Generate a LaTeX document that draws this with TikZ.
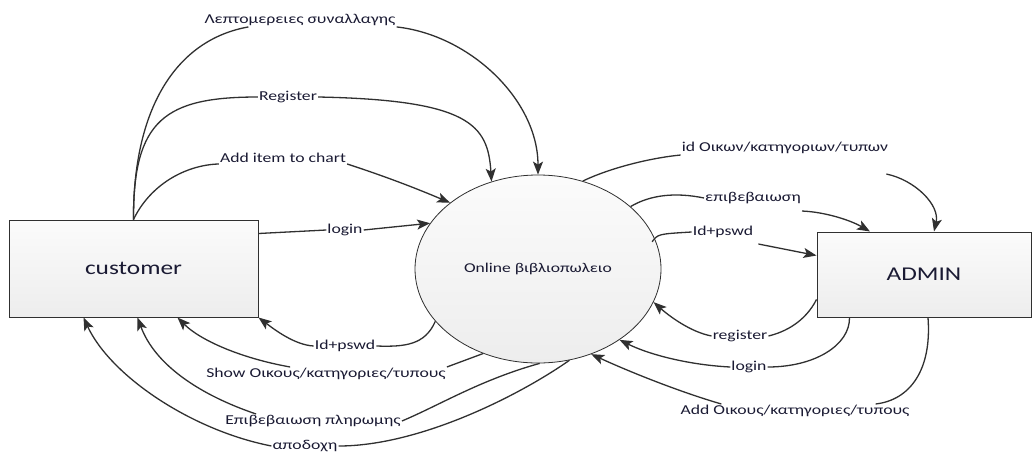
\documentclass[tikz,border=0pt]{standalone}
\usepackage{fontspec}
\setmainfont{Carlito}
\usetikzlibrary{arrows.meta,shapes.geometric,calc}
\definecolor{linec}{HTML}{303030}
\definecolor{txtc}{HTML}{1A1A33}
\newcommand{\sx}[1]{\scalebox{1.3}[1]{#1}}
\begin{document}
\begin{tikzpicture}[x=1pt,y=-1pt,
  ent/.style={draw=linec, line width=1pt, rectangle, top color=gray!3, bottom color=gray!14, inner sep=0pt, text=txtc, font=\fontsize{19.5}{22}\selectfont},
  proc/.style={draw=linec, line width=0.8pt, ellipse, inner sep=0pt, top color=gray!3, bottom color=gray!14, text=txtc, font=\fontsize{13.5}{15}\selectfont},
  lbl/.style={inner sep=1pt, text=txtc, font=\fontsize{13.6}{15}\selectfont},
  flow/.style={draw=linec, line width=1.3pt},
  arr/.style={flow, -{Stealth[length=13pt,width=10pt,inset=3pt]}}
]
\useasboundingbox (0,0) rectangle (1033,453);
\fill[white] (0,0) rectangle (1033,453);

% nodes
\node[ent, minimum width=249pt, minimum height=97pt] (cust) at (133.5,268.5) {\sx{customer}};
\node[ent, minimum width=214pt, minimum height=85pt] (adm) at (924,274.5) {\sx{ADMIN}};
\node[proc, minimum width=246pt, minimum height=188pt] (sys) at (538,269) {\sx{Online βιβλιοπωλειο}};

% labels
\node[lbl] (L1) at (300,20) {\sx{Λεπτομερειες συναλλαγης}};
\node[lbl] (L2) at (288,97) {\sx{Register}};
\node[lbl] (L3) at (283,158) {\sx{Add item to chart}};
\node[lbl] (L4) at (345,230) {\sx{login}};
\node[lbl] (L5) at (345,346) {\sx{Id+pswd}};
\node[lbl] (L6) at (326,374) {\sx{Show Οικους/κατηγοριες/τυπους}};
\node[lbl] (L7) at (313,421) {\sx{Επιβεβαιωση πληρωμης}};
\node[lbl] (L8) at (305,446) {\sx{αποδοχη}};
\node[lbl] (R1) at (785,148) {\sx{id Οικων/κατηγοριων/τυπων}};
\node[lbl] (R2) at (753,198) {\sx{επιβεβαιωση}};
\node[lbl] (R3) at (723,232) {\sx{Id+pswd}};
\node[lbl] (R4) at (740,336) {\sx{register}};
\node[lbl] (R5) at (749,367) {\sx{login}};
\node[lbl] (R6) at (795,411) {\sx{Add Οικους/κατηγοριες/τυπους}};

% customer -> system
\draw[flow] (cust.north) .. controls (133,110) and (175,40) .. ([xshift=45pt]L1.south west);
\draw[arr] (L1.south east) .. controls (470,35) and (538,100) .. (sys.90);

\draw[flow] (cust.north) .. controls (133,120) and (165,97) .. (L2.west);
\draw[arr] (L2.east) .. controls (470,100) and (488,125) .. (sys.118.8);

\draw[flow] (cust.north) .. controls (150,185) and (185,165) .. (L3.south west);
\draw[arr] (L3.south east) .. controls (390,178) and (420,190) .. (sys.143);

\draw[flow] ([yshift=-14pt]cust.north east) -- (L4.west);
\draw[arr] (L4.east) -- (sys.157.4);

% system -> customer
\draw[flow] (sys.207.7) .. controls (425,345) and (405,347) .. (L5.east);
\draw[arr] (L5.west) .. controls (295,345) and (275,330) .. (cust.south east);

\draw[flow] (sys.237) -- (L6.north east);
\draw[arr] ([xshift=85pt]L6.north west) .. controls (240,358) and (200,340) .. ([xshift=44pt]cust.south);

\draw[flow] (sys.271) .. controls (480,380) and (440,405) .. (L7.east);
\draw[arr] ([xshift=32pt]L7.north west) .. controls (200,395) and (155,365) .. ([xshift=4pt]cust.south);

\draw[flow] (sys.289) .. controls (520,395) and (420,446) .. (L8.east);
\draw[arr] (L8.west) .. controls (190,430) and (110,375) .. ([xshift=-50pt]cust.south);

% system -> admin
\draw[flow] (sys.63.4) .. controls (610,168) and (650,158) .. (R1.south west);
\draw[arr] ([xshift=-3pt,yshift=-19pt]R1.south east) .. controls (915,180) and (940,205) .. ([xshift=10pt]adm.north);

\draw[flow] (sys.34.5) .. controls (650,195) and (675,192) .. (R2.west);
\draw[arr] ([yshift=-6pt]R2.south east) .. controls (825,212) and (850,220) .. ([xshift=-54pt]adm.north);

\draw[flow] ([xshift=-4pt]sys.13) .. controls (658,234) .. (R3.west);
\draw[arr] ([xshift=4pt,yshift=-12pt]R3.east) -- ([yshift=-24pt]adm.north west);

% admin -> system
\draw[flow] ([yshift=18pt]adm.south west) .. controls (805,322) and (785,332) .. (R4.east);
\draw[arr] (R4.west) .. controls (690,332) and (668,315) .. (sys.344);

\draw[flow] ([xshift=33pt]adm.south west) .. controls (850,345) and (815,367) .. (R5.east);
\draw[arr] (R5.west) .. controls (690,365) and (650,355) .. (sys.319);

\draw[flow] ([xshift=4pt]adm.south) .. controls (932,370) and (910,400) .. ([xshift=-35pt]R6.north east);
\draw[arr] ([xshift=42pt]R6.north west) .. controls (680,392) and (630,372) .. (sys.302.7);
\end{tikzpicture}
\end{document}
